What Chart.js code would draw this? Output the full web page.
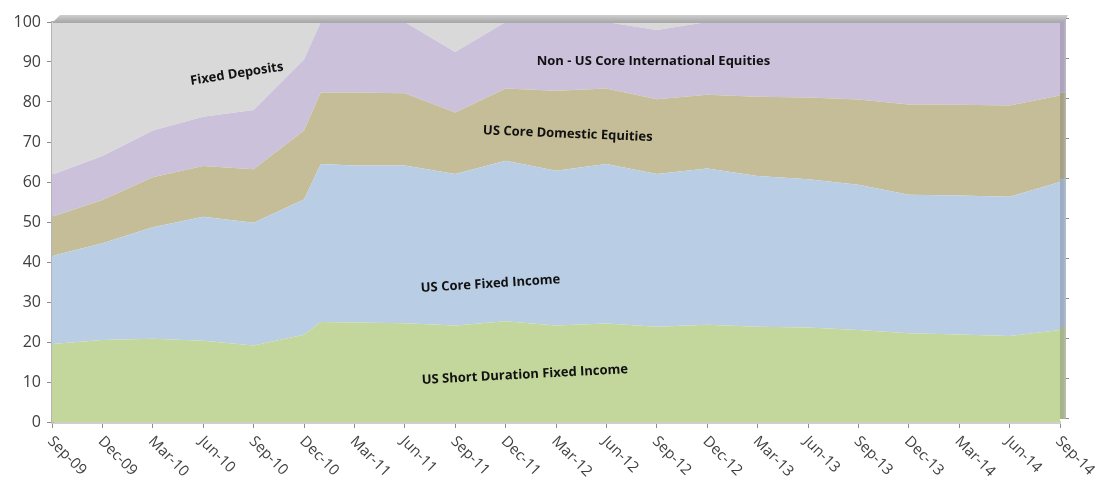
<!DOCTYPE html>
<html>
<head>
<meta charset="utf-8">
<script src="https://cdn.jsdelivr.net/npm/chart.js@4.4.0/dist/chart.umd.min.js"></script>
<style>
    html, body { margin: 0; padding: 0; background: #fff; }
    #wrap { width: 1099px; height: 485px; }
</style>
</head>
<body>
<div id="wrap"><canvas id="allocationChart"></canvas></div>
<script>
// months since Sep-09; Jan-11 (16) is the one extra point between quarters
const months = [0, 3, 6, 9, 12, 15, 16, 18, 21, 24, 27, 30, 33, 36, 39, 42, 45, 48, 51, 54, 57, 60]
const tickLabels = ['Sep-09', 'Dec-09', 'Mar-10', 'Jun-10', 'Sep-10', 'Dec-10', 'Mar-11', 'Jun-11', 'Sep-11', 'Dec-11', 'Mar-12',
    'Jun-12', 'Sep-12', 'Dec-12', 'Mar-13', 'Jun-13', 'Sep-13', 'Dec-13', 'Mar-14', 'Jun-14', 'Sep-14']
const yTicks = [0, 10, 20, 30, 40, 50, 60, 70, 80, 90, 100]

const shortDuration = [19.5, 20.5, 20.8, 20.3, 19.1, 21.8, 25.0, 24.9, 24.7, 24.1, 25.2, 24.1, 24.6, 23.8, 24.3, 23.8, 23.6, 23.0, 22.2, 21.9, 21.5, 23.0]
const coreFixedIncome = [22.0, 24.2, 27.9, 31.0, 30.7, 33.8, 39.5, 39.2, 39.4, 37.9, 40.1, 38.7, 39.9, 38.2, 39.1, 37.7, 37.1, 36.3, 34.6, 34.7, 34.8, 37.0]
const domesticEquities = [9.8, 10.8, 12.5, 12.7, 13.4, 17.3, 17.9, 18.3, 18.1, 15.4, 18.1, 20.0, 18.9, 18.7, 18.4, 19.8, 20.4, 21.3, 22.6, 22.7, 22.8, 21.6]
const intlEquities = [10.5, 11.0, 11.7, 12.3, 14.8, 17.7, 17.6, 17.6, 17.8, 15.1, 16.6, 17.2, 16.6, 17.3, 18.2, 18.7, 18.9, 19.4, 20.6, 20.7, 20.9, 18.4]
const fixedDeposits = [38.2, 33.5, 27.1, 23.7, 22.0, 9.4, 0, 0, 0, 7.5, 0, 0, 0, 2.0, 0, 0, 0, 0, 0, 0, 0, 0]

// in-chart series names, placed in data units
const areaLabels = [
    { text: 'Fixed Deposits', x: 11.0, y: 87, angle: -8.9 },
    { text: 'Non - US Core International Equities', x: 35.8, y: 90.2, angle: 0 },
    { text: 'US Core Domestic Equities', x: 30.7, y: 72, angle: 2.3 },
    { text: 'US Core Fixed Income', x: 26.1, y: 34.5, angle: -3.6 },
    { text: 'US Short Duration Fixed Income', x: 28.15, y: 11.8, angle: -3 }
]

const toPoints = vals => months.map((m, i) => ({ x: m, y: vals[i] }))

const makeArea = (label, vals, color, fill) => ({
    label: label,
    data: toPoints(vals),
    backgroundColor: color,
    borderWidth: 0,
    pointRadius: 0,
    tension: 0,
    fill: fill
})

const excelLook = {
    id: 'excelLook',
    afterDatasetsDraw: (chart) => {
        const {ctx, chartArea: a} = chart
        ctx.save()
        // right side wall: stretch the last column of the area and shade it
        ctx.drawImage(chart.canvas, a.right - 1, a.top, 1, a.bottom - a.top, a.right, a.top - 3, 6, a.bottom - a.top)
        ctx.fillStyle = 'rgba(60,60,80,0.22)'
        ctx.fillRect(a.right, a.top - 3, 6, a.bottom - a.top)
        // top edge of the back wall
        let grad = ctx.createLinearGradient(0, a.top - 8, 0, a.top)
        grad.addColorStop(0, '#d4d4d4')
        grad.addColorStop(1, '#a9a9a9')
        ctx.fillStyle = grad
        ctx.beginPath()
        ctx.moveTo(a.left, a.top + 1)
        ctx.lineTo(a.left + 8, a.top - 7)
        ctx.lineTo(a.right + 8, a.top - 7)
        ctx.lineTo(a.right + 6, a.top - 3)
        ctx.lineTo(a.right, a.top + 1)
        ctx.closePath()
        ctx.fill()
        // small ticks on the side wall
        ctx.strokeStyle = '#8c8c8c'
        ctx.lineWidth = 1
        yTicks.forEach(v => {
            const py = Math.round(chart.scales.y.getPixelForValue(v)) - 3.5
            ctx.beginPath()
            ctx.moveTo(a.right + 6, py)
            ctx.lineTo(a.right + 9, py)
            ctx.stroke()
        })
        ctx.restore()
    },
    afterDraw: (chart) => {
        const {ctx, scales: {x, y}} = chart
        ctx.save()
        // rotated month labels, reading down to the right
        ctx.fillStyle = '#404040'
        ctx.font = '15px "Open Sans"'
        ctx.textAlign = 'left'
        ctx.textBaseline = 'middle'
        tickLabels.forEach((lbl, i) => {
            const px = x.getPixelForValue(i * 3)
            ctx.save()
            ctx.translate(px - 2, 439)
            ctx.rotate(Math.PI / 4)
            ctx.fillText(lbl, 0, 0)
            ctx.restore()
        })
        // area names
        ctx.fillStyle = '#111'
        ctx.font = 'bold 13px "Open Sans"'
        ctx.textAlign = 'center'
        areaLabels.forEach(l => {
            ctx.save()
            ctx.translate(x.getPixelForValue(l.x), y.getPixelForValue(l.y))
            ctx.rotate(l.angle * Math.PI / 180)
            ctx.fillText(l.text, 0, 0)
            ctx.restore()
        })
        ctx.restore()
    }
}

let allocationChart = new Chart(document.getElementById('allocationChart'), {
    type: 'line',
    data: {
        datasets: [
            makeArea('US Short Duration Fixed Income', shortDuration, '#c3d69b', 'origin'),
            makeArea('US Core Fixed Income', coreFixedIncome, '#b9cde5', '-1'),
            makeArea('US Core Domestic Equities', domesticEquities, '#c4bd97', '-1'),
            makeArea('Non - US Core International Equities', intlEquities, '#ccc1da', '-1'),
            makeArea('Fixed Deposits', fixedDeposits, '#d9d9d9', '-1')
        ]
    },
    options: {
        responsive: true,
        maintainAspectRatio: false,
        animation: false,
        layout: {
            padding: { top: 22, right: 39, left: 0, bottom: 0 }
        },
        plugins: {
            legend: { display: false },
            tooltip: { enabled: false }
        },
        scales: {
            x: {
                type: 'linear',
                min: 0,
                max: 60,
                afterFit: (s) => { s.height = 63 },
                ticks: {
                    display: false,
                    stepSize: 3
                },
                grid: {
                    drawOnChartArea: false,
                    drawTicks: true,
                    tickLength: 6,
                    color: '#8c8c8c'
                },
                border: {
                    display: true,
                    color: '#cfcfcf',
                    width: 3
                }
            },
            y: {
                stacked: true,
                min: 0,
                max: 100,
                afterFit: (s) => { s.width = 52 },
                ticks: {
                    stepSize: 10,
                    padding: 6,
                    color: '#404040',
                    font: { family: 'Open Sans', size: 16 }
                },
                grid: {
                    drawOnChartArea: false,
                    drawTicks: true,
                    tickLength: 5,
                    color: '#8c8c8c'
                },
                border: {
                    display: true,
                    color: '#b4b4b4',
                    width: 3
                }
            }
        }
    },
    plugins: [excelLook]
});
</script>
</body>
</html>
